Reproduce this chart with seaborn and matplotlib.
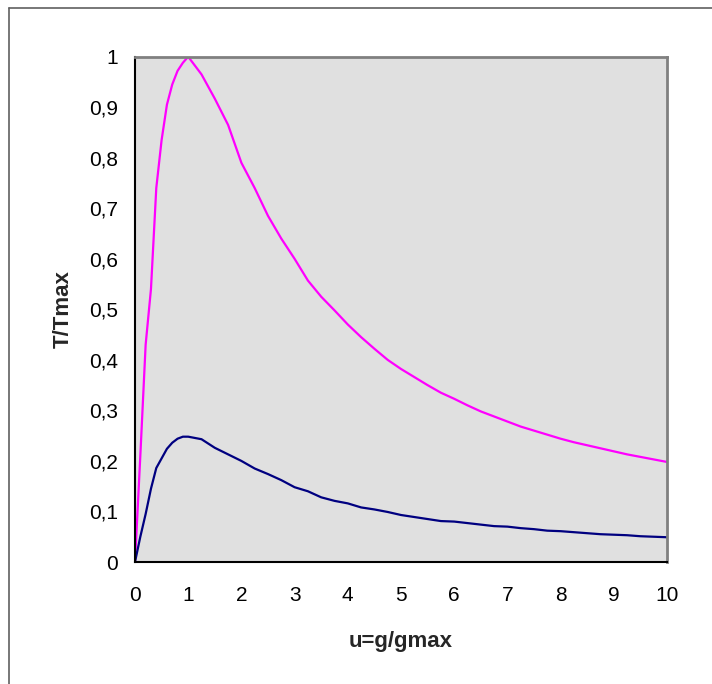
import pandas as pd
import seaborn as sns
import matplotlib.pyplot as plt
from matplotlib.lines import Line2D

# u = g/gmax
u = [0, 0.1, 0.2, 0.3, 0.4, 0.5, 0.6, 0.7, 0.8, 0.9, 1.0,
     1.25, 1.5, 1.75, 2.0, 2.25, 2.5, 2.75, 3.0, 3.25, 3.5, 3.75,
     4.0, 4.25, 4.5, 4.75, 5.0, 5.25, 5.5, 5.75, 6.0, 6.25, 6.5, 6.75,
     7.0, 7.25, 7.5, 7.75, 8.0, 8.25, 8.5, 8.75, 9.0, 9.25, 9.5, 9.75, 10.0]

# upper curve (magenta)
t_rosa = [0, 0.21, 0.43, 0.54, 0.74, 0.835, 0.905, 0.945, 0.972, 0.988, 1.0,
          0.965, 0.917, 0.865, 0.79, 0.74, 0.685, 0.64, 0.60, 0.557, 0.525, 0.498,
          0.47, 0.445, 0.422, 0.40, 0.382, 0.366, 0.35, 0.335, 0.323, 0.31, 0.298, 0.288,
          0.278, 0.268, 0.26, 0.252, 0.244, 0.237, 0.231, 0.225, 0.219, 0.213, 0.208, 0.203, 0.198]

# lower curve (navy)
t_azul = [0, 0.05, 0.095, 0.145, 0.186, 0.205, 0.224, 0.236, 0.244, 0.248, 0.248,
          0.243, 0.226, 0.213, 0.200, 0.185, 0.174, 0.162, 0.148, 0.140, 0.128, 0.121,
          0.116, 0.108, 0.104, 0.099, 0.093, 0.089, 0.085, 0.081, 0.080, 0.077, 0.074, 0.071,
          0.070, 0.067, 0.065, 0.062, 0.061, 0.059, 0.057, 0.055, 0.054, 0.053, 0.051, 0.050, 0.049]

x_ticks = [0, 1, 2, 3, 4, 5, 6, 7, 8, 9, 10]
y_ticks = [0, 0.1, 0.2, 0.3, 0.4, 0.5, 0.6, 0.7, 0.8, 0.9, 1.0]
y_labels = ["0", "0,1", "0,2", "0,3", "0,4", "0,5", "0,6", "0,7", "0,8", "0,9", "1"]

df = pd.DataFrame({"u": u + u,
                   "T": t_rosa + t_azul,
                   "serie": ["rosa"] * len(u) + ["azul"] * len(u)})

sns.set_style("white")
plt.rcParams["font.family"] = ["Liberation Sans", "DejaVu Sans"]

fig = plt.figure(figsize=(7.12, 6.84), dpi=100)
ax = fig.add_axes([135 / 712, 1 - 562 / 684, 532 / 712, 505.3 / 684])
ax.set_facecolor("#e0e0e0")

sns.lineplot(data=df, x="u", y="T", hue="serie", sort=False,
             palette={"rosa": "#ff00ff", "azul": "#000080"},
             linewidth=1.6, legend=False, ax=ax)

ax.set_xlim(0, 10)
ax.set_ylim(0, 1)
ax.set_xticks(x_ticks)
ax.set_xticklabels([str(t) for t in x_ticks])
ax.set_yticks(y_ticks)
ax.set_yticklabels(y_labels)
ax.tick_params(axis="both", direction="out", length=5, width=1.2, color="black",
               labelsize=15, labelcolor="black")
ax.tick_params(axis="y", pad=7)
ax.tick_params(axis="x", pad=12)

for s in ["left", "bottom"]:
    ax.spines[s].set_color("black")
    ax.spines[s].set_linewidth(1.5)
for s in ["top", "right"]:
    ax.spines[s].set_color("#808080")
    ax.spines[s].set_linewidth(2)

ax.set_xlabel("u=g/gmax", fontsize=16, fontweight="bold", labelpad=19)
ax.set_ylabel("T/Tmax", fontsize=16, fontweight="bold", labelpad=11)

# moldura do grafico (cortada a direita e em baixo)
fig.add_artist(Line2D([9 / 712, 1.0], [1 - 8 / 684, 1 - 8 / 684], transform=fig.transFigure,
                      color="#606060", linewidth=1.2))
fig.add_artist(Line2D([9 / 712, 9 / 712], [0, 1 - 8 / 684], transform=fig.transFigure,
                      color="#606060", linewidth=1.2))

plt.savefig("out.png", dpi=100)
